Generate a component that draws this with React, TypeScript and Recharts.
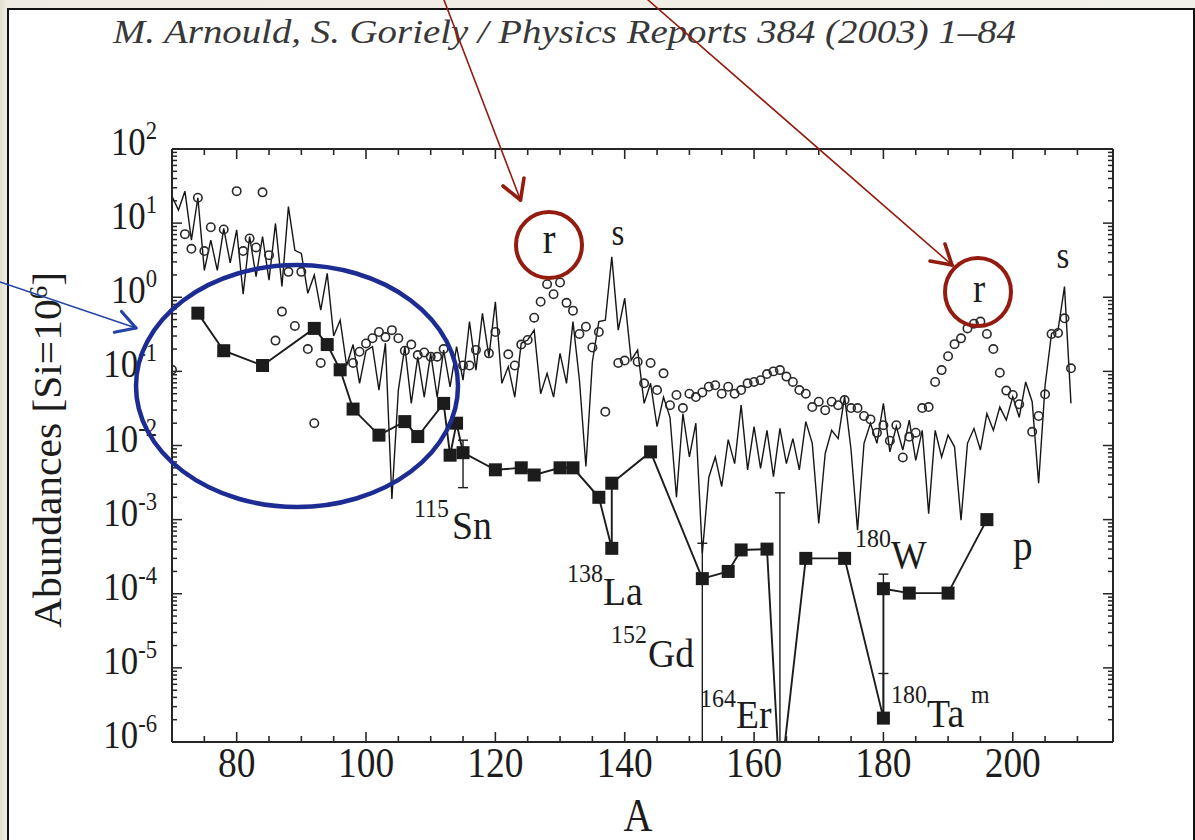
import { ComposedChart, Line, Scatter, XAxis, YAxis, ErrorBar } from 'recharts';

// s-process contribution, one value per mass number starting at A = 70
const S_FIRST_MASS = 70;
const sAbund = [
  23, 15, 27, 5.9, 22, 2.3, 5.9, 2.3, 8.5, 2.9,
  8.1, 1.1, 6.6, 1.9, 6.6, 1.7, 9.9, 1.4, 16.7, 4.3,
  3.9, 1.13, 2.0, 0.67, 2.1, 0.30, 0.49, 0.12, 0.23, 0.069,
  0.19, 0.215, 0.056, 0.24, 0.0019, 0.056, 0.215, 0.037, 0.157, 0.045,
  0.175, 0.045, 0.194, 0.062, 0.215, 0.076, 0.47, 0.104, 0.605, 0.158,
  0.87, 0.069, 0.116, 0.045, 0.239, 0.265, 0.36, 0.05, 0.094, 0.045,
  0.175, 0.069, 0.47, 0.076, 0.0052, 0.135, 0.47, 0.49, 3.5, 0.36,
  0.97, 0.142, 0.194, 0.037, 0.069, 0.018, 0.045, 0.024, 0.002, 0.027,
  0.007, 0.020, 0.00035, 0.0037, 0.007, 0.0028, 0.012, 0.0057, 0.035, 0.0047,
  0.018, 0.0049, 0.016, 0.0038, 0.017, 0.0057, 0.0124, 0.0047, 0.021, 0.0107,
  0.00089, 0.0078, 0.016, 0.0124, 0.0455, 0.0087, 0.00072, 0.0107, 0.020, 0.0107,
  0.037, 0.0082, 0.018, 0.0087, 0.022, 0.0063, 0.016, 0.0012, 0.016, 0.007,
  0.0138, 0.0096, 0.00098, 0.0107, 0.017, 0.0087, 0.027, 0.016, 0.033, 0.022,
  0.0455, 0.024, 0.072, 0.039, 0.0031, 0.065, 0.325, 0.36, 1.39, 0.037,
];

// r-process contribution (open circles)
const rMass = [
  70, 72, 73, 74, 75, 76, 78, 80, 81, 82, 83, 84, 85, 86, 87, 88, 89, 90, 91, 92, 93,
  98, 99, 100, 101, 102, 103, 104, 105, 106, 107, 108, 109, 110, 111, 112,
  115, 116, 117, 119, 120, 122, 123, 124, 125, 126, 127, 128, 129, 130, 131, 132, 133, 134, 135, 136, 137,
  139, 140, 142, 143, 144, 145, 146, 147, 148, 149, 150, 151, 152, 153, 154, 155, 156, 157, 158, 159,
  160, 161, 162, 163, 164, 165, 166, 167, 168, 169, 170, 171, 172, 173, 174, 175, 176, 177, 178, 179,
  180, 181, 182, 183, 184, 185, 186, 187, 188, 189, 190, 191, 192, 193, 194, 195, 196, 197, 198, 199,
  200, 201, 203, 204, 205, 206, 207, 208, 209,
];
const rAbund = [
  0.105, 7.1, 4.5, 22, 4.2, 8.8, 8.2, 27, 4.2, 6.2, 4.7, 26, 3.7, 0.26, 0.64, 2.2, 0.41, 2.2, 0.20, 0.020, 0.13,
  0.13, 0.184, 0.238, 0.28, 0.34, 0.29, 0.36, 0.28, 0.19, 0.23, 0.166, 0.18, 0.158, 0.158, 0.20,
  0.12, 0.12, 0.195, 0.175, 0.34, 0.17, 0.12, 0.23, 0.265, 0.53, 0.87, 1.5, 1.1, 1.58, 0.84, 0.66, 0.32, 0.40, 0.21, 0.34, 0.0285,
  0.13, 0.14, 0.135, 0.069, 0.13, 0.056, 0.094, 0.035, 0.048, 0.032, 0.050, 0.045, 0.052, 0.062, 0.065, 0.05, 0.062, 0.05, 0.056, 0.069,
  0.072, 0.076, 0.092, 0.10, 0.104, 0.085, 0.072, 0.056, 0.050, 0.033, 0.039, 0.030, 0.039, 0.035, 0.041, 0.032, 0.032, 0.025, 0.0225, 0.0149,
  0.0188, 0.0116, 0.0188, 0.0069, 0.0131, 0.0149, 0.032, 0.033, 0.072, 0.104, 0.16, 0.233, 0.279, 0.38, 0.44, 0.47, 0.32, 0.20, 0.096, 0.055,
  0.048, 0.036, 0.0153, 0.025, 0.049, 0.32, 0.33, 0.52, 0.11,
];

// p-nuclides (filled squares), in the order the polyline joins them
const pMass = [74, 78, 84, 92, 94, 96, 98, 102, 106, 108, 112, 113, 114, 115, 120, 124, 126, 130, 132, 136, 138, 138, 144, 152, 156, 158, 162, 164, 168, 174, 180, 180, 184, 190, 196];
const pAbund = [
  0.61, 0.19, 0.12, 0.38, 0.23, 0.105, 0.031, 0.0138, 0.021, 0.0132, 0.037, 0.0074, 0.020, 0.008,
  0.0047, 0.0050, 0.0040, 0.0050, 0.0050, 0.0020, 0.00041, 0.0031, 0.0082,
  0.00016, 0.0002, 0.00039, 0.0004, 2.5e-7, 0.0003, 0.0003, 2.1e-6, 1.17e-4, 1.02e-4, 1.02e-4, 0.001,
];

// error bars on a few p-nuclides (low / high bounds)
const errMass = [115, 152, 164, 180, 180];
const errLow = [0.0027, 1e-6, 1e-6, 1.17e-4, 2.1e-6];
const errHigh = [0.0118, 0.00048, 0.0023, 1.84e-4, 8.4e-6];

const xTicks = [75, 80, 85, 90, 95, 100, 105, 110, 115, 120, 125, 130, 135, 140, 145, 150, 155, 160, 165, 170, 175, 180, 185, 190, 195, 200, 205, 210];
const xLabels = [80, 100, 120, 140, 160, 180, 200];
const yDecades = [1e-6, 1e-5, 1e-4, 1e-3, 1e-2, 1e-1, 1, 10, 100];
const yMinorSteps = [2, 3, 4, 5, 6, 7, 8, 9];

const sData = sAbund.map((v, i) => ({ A: S_FIRST_MASS + i, v }));
const rData = rMass.map((A, i) => ({ A, v: rAbund[i] }));
const pData = pMass.map((A, i) => ({ A, v: pAbund[i] }));
const errData = errMass.map((A, i) => ({ A, v: errLow[i], err: [0, errHigh[i] - errLow[i]] }));
const yTicks = [...yDecades, ...yDecades.slice(0, -1).flatMap((d) => yMinorSteps.map((m) => m * d))];

const W = 1195;
const H = 840;
const PLOT = { left: 172, top: 149, right: 1113, bottom: 742 };
const Y_LEFT_W = 100;
const Y_RIGHT_W = 20;
const X_BOTTOM_H = 60;
const X_TOP_H = 20;

const SERIF = "'Liberation Serif', 'Times New Roman', serif";
const INK = '#1c1c1c';
const AXIS = '#262626';
const RED = '#931b0f';
const BLUE = '#1c2c93';
const SQ = 13;

const isDecade = (v: number) => Math.abs(Math.log10(v) - Math.round(Math.log10(v))) < 1e-6;

const BottomTick = (props: any) => {
  const { x, y, payload } = props;
  const major = xLabels.includes(payload.value);
  return (
    <g>
      <line x1={x} x2={x} y1={y} y2={y - (major ? 10 : 6)} stroke={AXIS} strokeWidth={1.6} />
      {major && (
        <text transform={`translate(${x},${y + 35}) scale(0.87,1)`} textAnchor="middle"
          fontSize={43} fontFamily={SERIF} fill={INK}>
          {payload.value}
        </text>
      )}
    </g>
  );
};

const TopTick = (props: any) => {
  const { x, y, payload } = props;
  const major = xLabels.includes(payload.value);
  return <line x1={x} x2={x} y1={y} y2={y + (major ? 10 : 6)} stroke={AXIS} strokeWidth={1.6} />;
};

const LeftTick = (props: any) => {
  const { x, y, payload } = props;
  const major = isDecade(payload.value);
  const e = Math.round(Math.log10(payload.value));
  return (
    <g>
      <line x1={x} x2={x + (major ? 10 : 5)} y1={y} y2={y} stroke={AXIS} strokeWidth={1.5} />
      {major && (
        <text transform={`translate(${x - 15},${y + 6}) scale(0.87,1)`} textAnchor="end"
          fontSize={40} fontFamily={SERIF} fill={INK}>
          10<tspan dy={-16} fontSize={26}>{e}</tspan>
        </text>
      )}
    </g>
  );
};

const RightTick = (props: any) => {
  const { x, y, payload } = props;
  const major = isDecade(payload.value);
  return <line x1={x} x2={x - (major ? 10 : 5)} y1={y} y2={y} stroke={AXIS} strokeWidth={1.5} />;
};

const SquareDot = (props: any) => {
  const { cx, cy } = props;
  if (cx == null || cy == null || !isFinite(cy)) return <g />;
  return <rect x={cx - SQ / 2} y={cy - SQ / 2} width={SQ} height={SQ} fill={INK} />;
};

const OpenCircle = (props: any) => {
  const { cx, cy } = props;
  if (cx == null || cy == null) return <g />;
  return <circle cx={cx} cy={cy} r={4.2} fill="none" stroke="#2a2a2a" strokeWidth={1.6} />;
};

const NoMark = () => <g />;

// plain serif text, squeezed horizontally like the scanned figure
const Txt = ({ x, y, size, anchor = 'start', sx = 0.87, children }: any) => (
  <text transform={`translate(${x},${y}) scale(${sx},1)`} textAnchor={anchor}
    fontSize={size} fontFamily={SERIF} fill={INK}>
    {children}
  </text>
);

const Isotope = ({ mass, sym, mx, my, sxPos, sy }: any) => (
  <g>
    <Txt x={mx} y={my} size={26} sx={0.92}>{mass}</Txt>
    <Txt x={sxPos} y={sy} size={41} sx={0.92}>{sym}</Txt>
  </g>
);

const Arrow = ({ from, to, arms, color, shaft = 1.6, head = 3.6 }: any) => (
  <g stroke={color} fill="none" strokeLinecap="round">
    <line x1={from[0]} y1={from[1]} x2={to[0]} y2={to[1]} strokeWidth={shaft} />
    {arms.map((a: number[], i: number) => (
      <line key={i} x1={to[0]} y1={to[1]} x2={a[0]} y2={a[1]} strokeWidth={head} />
    ))}
  </g>
);

const Overlay = () => (
  <svg width={W} height={H} style={{ position: 'absolute', left: 0, top: 0, pointerEvents: 'none' }}>
    <text x={113} y={43} fontSize={33} fontStyle="italic" fontFamily={SERIF} fill="#383838"
      textLength={903} lengthAdjust="spacingAndGlyphs">
      M. Arnould, S. Goriely / Physics Reports 384 (2003) 1–84
    </text>

    <text transform="translate(61,450) rotate(-90)" textAnchor="middle" fontSize={40}
      fontFamily={SERIF} fill={INK} textLength={356} lengthAdjust="spacingAndGlyphs">
      Abundances [Si=10<tspan dy={-14} fontSize={26}>6</tspan><tspan dy={14}>]</tspan>
    </text>
    <Txt x={638} y={831} size={46} anchor="middle">A</Txt>

    <Txt x={549} y={253} size={44} anchor="middle">r</Txt>
    <Txt x={979} y={302} size={42} anchor="middle">r</Txt>
    <Txt x={618} y={245} size={38} anchor="middle">s</Txt>
    <Txt x={1063} y={268} size={38} anchor="middle">s</Txt>
    <Txt x={1013} y={560} size={45}>p</Txt>

    <Isotope mass="115" sym="Sn" mx={414} my={517} sxPos={452} sy={539} />
    <Isotope mass="138" sym="La" mx={567} my={582} sxPos={603} sy={605} />
    <Isotope mass="152" sym="Gd" mx={611} my={643} sxPos={648} sy={667} />
    <Isotope mass="164" sym="Er" mx={700} my={707} sxPos={736} sy={728} />
    <Isotope mass="180" sym="W" mx={855} my={547} sxPos={891} sy={568} />
    <Isotope mass="180" sym="Ta" mx={891} my={703} sxPos={927} sy={727} />
    <Txt x={971} y={703} size={26} sx={0.92}>m</Txt>

    <Arrow from={[444, 0]} to={[520.5, 200]} arms={[[524, 178], [503, 186]]} color={RED} />
    <Arrow from={[648, 0]} to={[952, 265]} arms={[[945, 244], [930, 261]]} color={RED} />
    <circle cx={549} cy={245} r={33} fill="none" stroke={RED} strokeWidth={4} />
    <ellipse cx={978} cy={292} rx={33} ry={34} fill="none" stroke={RED} strokeWidth={4} />

    <ellipse cx={297} cy={386} rx={161} ry={121} fill="none" stroke={BLUE} strokeWidth={4.5} />
    <Arrow from={[0, 282]} to={[136, 328]} arms={[[121.5, 311.5], [114.4, 332.3]]} color="#2443a6" shaft={1.5} head={3.2} />
  </svg>
);

export default function App() {
  const margin = {
    top: PLOT.top - X_TOP_H,
    right: W - PLOT.right - Y_RIGHT_W,
    bottom: H - PLOT.bottom - X_BOTTOM_H,
    left: PLOT.left - Y_LEFT_W,
  };
  const xDomain: [number, number] = [70, 215.5];
  const yDomain: [number, number] = [1e-6, 100];

  return (
    <div style={{
      position: 'absolute', left: 0, top: 0, width: W, height: H, overflow: 'hidden',
      background: 'linear-gradient(90deg, #e2ddcf 0px, #eeebe2 7px, #f2f0ea 100%)',
    }}>
      <div style={{
        position: 'absolute', left: 7, top: 8, width: W - 7, height: H + 40,
        background: '#fff', border: '2.5px solid #111', boxSizing: 'border-box',
      }} />
      <div style={{ position: 'absolute', left: 0, top: 0 }}>
        <ComposedChart width={W} height={H} margin={margin}>
          <XAxis xAxisId="bottom" type="number" dataKey="A" domain={xDomain} allowDataOverflow
            ticks={xTicks} interval={0} tick={BottomTick} tickLine={false} tickSize={0} tickMargin={0}
            axisLine={{ stroke: AXIS, strokeWidth: 2 }} height={X_BOTTOM_H} />
          <XAxis xAxisId="top" orientation="top" type="number" dataKey="A" domain={xDomain} allowDataOverflow
            ticks={xTicks} interval={0} tick={TopTick} tickLine={false} tickSize={0} tickMargin={0}
            axisLine={{ stroke: AXIS, strokeWidth: 2 }} height={X_TOP_H} />
          <YAxis yAxisId="left" type="number" scale="log" domain={yDomain} allowDataOverflow
            ticks={yTicks} interval={0} tick={LeftTick} tickLine={false} tickSize={0} tickMargin={0}
            axisLine={{ stroke: AXIS, strokeWidth: 2 }} width={Y_LEFT_W} />
          <YAxis yAxisId="right" orientation="right" type="number" scale="log" domain={yDomain} allowDataOverflow
            ticks={yTicks} interval={0} tick={RightTick} tickLine={false} tickSize={0} tickMargin={0}
            axisLine={{ stroke: AXIS, strokeWidth: 2 }} width={Y_RIGHT_W} />

          <Line xAxisId="bottom" yAxisId="left" data={sData} dataKey="v" type="linear"
            stroke="#161616" strokeWidth={1.4} dot={false} isAnimationActive={false} />
          <Scatter xAxisId="bottom" yAxisId="left" data={rData} dataKey="v"
            shape={OpenCircle} isAnimationActive={false} />
          <Line xAxisId="bottom" yAxisId="left" data={pData} dataKey="v" type="linear"
            stroke={INK} strokeWidth={1.9} dot={SquareDot} isAnimationActive={false} />
          <Scatter xAxisId="bottom" yAxisId="left" data={errData} dataKey="v"
            shape={NoMark} isAnimationActive={false}>
            <ErrorBar dataKey="err" direction="y" width={5} stroke={INK} strokeWidth={1.4} />
          </Scatter>
        </ComposedChart>
      </div>
      <Overlay />
    </div>
  );
}
